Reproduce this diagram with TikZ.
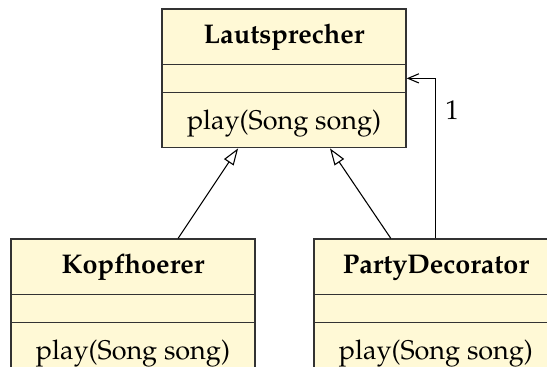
\documentclass[tikz,border=0pt]{standalone}
\usepackage[T1]{fontenc}
\usepackage{mathpazo}
\usetikzlibrary{shapes.multipart,positioning,arrows.meta}

\definecolor{classfill}{RGB}{255,249,214}
% fixed part heights
\newcommand{\namerow}[1]{\rule[-7.4pt]{0pt}{20pt}\textbf{#1}}
\newcommand{\attrrow}{\rule[-5pt]{0pt}{10pt}}
\newcommand{\oprow}[1]{\rule[-6.7pt]{0pt}{20pt}#1}

\tikzset{
  umlclass/.style={rectangle split, rectangle split parts=3,
    draw=black!80, fill=classfill, line width=0.45pt,
    minimum width=90.3pt, inner ysep=0pt},
  inherit/.style={-{Triangle[open,length=6.2pt,width=4.2pt]}, line width=0.4pt},
  assoc/.style={-{Straight Barb[length=4pt,width=3.4pt]}, line width=0.4pt}
}

\begin{document}
\begin{tikzpicture}
	\useasboundingbox (-105.1pt,29pt) rectangle (97.3pt,-106.7pt);

	\node (LS) [umlclass] at (0,0)
	  {\namerow{Lautsprecher}\nodepart{two}\attrrow\nodepart{three}\oprow{play(Song song)}};
	\node (KH) [umlclass, below=33.3pt of LS, xshift=-55.9pt]
	  {\namerow{Kopfhoerer}\nodepart{two}\attrrow\nodepart{three}\oprow{play(Song song)}};
	\node (PD) [umlclass, below=33.3pt of LS, xshift=56.2pt]
	  {\namerow{PartyDecorator}\nodepart{two}\attrrow\nodepart{three}\oprow{play(Song song)}};

	% generalisation
	\path[inherit]
	  ([xshift=16.7pt]KH.north) edge ([xshift=-17pt]LS.south)
	  ([xshift=-16.7pt]PD.north) edge ([xshift=17pt]LS.south);
	% association
	\draw[assoc] (PD.north) |- node [pos=0.4, right] {1} (LS.east);
\end{tikzpicture}
\end{document}
